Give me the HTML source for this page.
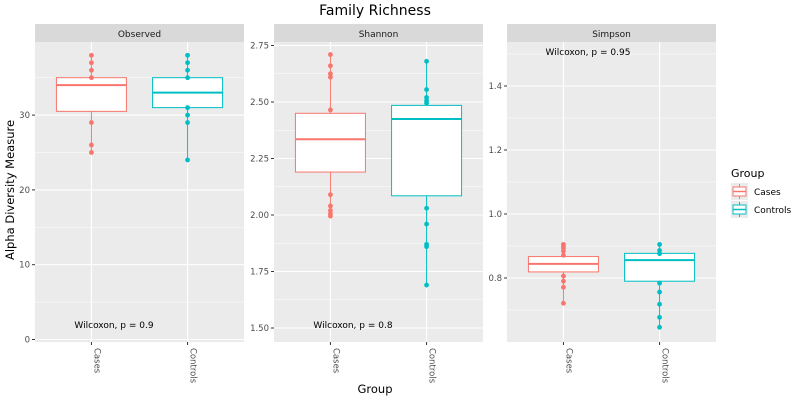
<!DOCTYPE html><html><head><style>body{margin:0;background:#fff}svg{display:block;font-family:"DejaVu Sans","Liberation Sans",sans-serif}</style></head><body>
<svg id="s" width="800" height="400" xmlns="http://www.w3.org/2000/svg"></svg>
<script>
const C='#F8766D',T='#00BFC4';let o='';
o+='<text x="375" y="15" font-size="14" text-anchor="middle" fill="#000">Family Richness</text>';
o+='<text x="14" y="190" font-size="11.5" text-anchor="middle" transform="rotate(-90 14 190)">Alpha Diversity Measure</text>';
o+='<text x="375" y="393" font-size="11.5" text-anchor="middle">Group</text>';
function panel(x0,x1,name,f,ticks,minors,lab,cases,ctrl,wx,wy,wtext){
 const top=42,bot=342;
 o+=`<rect x="${x0}" y="24" width="${x1-x0}" height="18" fill="#D9D9D9"/><text x="${(x0+x1)/2}" y="37" font-size="9" text-anchor="middle" fill="#1A1A1A">${name}</text>`;
 o+=`<rect x="${x0}" y="${top}" width="${x1-x0}" height="${bot-top}" fill="#EBEBEB"/>`;
 minors.forEach(v=>{const y=f(v);if(y>top&&y<bot)o+=`<line x1="${x0}" x2="${x1}" y1="${y}" y2="${y}" stroke="#fff" stroke-width="0.5"/>`});
 ticks.forEach((v,i)=>{const y=f(v);o+=`<line x1="${x0}" x2="${x1}" y1="${y}" y2="${y}" stroke="#fff" stroke-width="1.1"/><line x1="${x0-3}" x2="${x0}" y1="${y}" y2="${y}" stroke="#333"/><text x="${x0-5}" y="${y+3}" font-size="8.5" text-anchor="end" fill="#4D4D4D">${lab[i]}</text>`});
 const w=x1-x0,cx=[x0+w*0.27,x0+w*0.73];
 cx.forEach(x=>o+=`<line x1="${x}" x2="${x}" y1="${top}" y2="${bot}" stroke="#fff" stroke-width="1.1"/><line x1="${x}" x2="${x}" y1="${bot}" y2="${bot+3}" stroke="#333"/>`);
 [[cases,C,'Cases'],[ctrl,T,'Controls']].forEach(([d,col,nm],i)=>{const x=cx[i],hw=35;
  const [lo,q1,md,q3,hi,pts]=d;
  o+=`<line x1="${x}" x2="${x}" y1="${f(hi)}" y2="${f(q3)}" stroke="${col}"/><line x1="${x}" x2="${x}" y1="${f(q1)}" y2="${f(lo)}" stroke="${col}"/>`;
  o+=`<rect x="${x-hw}" y="${f(q3)}" width="${2*hw}" height="${f(q1)-f(q3)}" fill="#fff" stroke="${col}"/><line x1="${x-hw}" x2="${x+hw}" y1="${f(md)}" y2="${f(md)}" stroke="${col}" stroke-width="2"/>`;
  pts.forEach(p=>o+=`<circle cx="${x}" cy="${f(p)}" r="2.4" fill="${col}"/>`);
  o+=`<text x="${x+3}" y="${bot+6}" font-size="8.5" fill="#4D4D4D" transform="rotate(90 ${x+3} ${bot+6})">${nm}</text>`;
 });
 o+=`<text x="${wx}" y="${wy}" font-size="9" text-anchor="middle">${wtext}</text>`;
}
panel(35,244,'Observed',v=>339.5-v*7.48,[0,10,20,30],[5,15,25,35],['0','10','20','30'],
 [25,30.5,34,35,38,[38,37,36,35,29,26,25]],[24,31,33,35,38,[38,37,36,35,31,30,29,24]],114,328,'Wilcoxon, p = 0.9');
panel(274,483,'Shannon',v=>215-(v-2)*226,[1.5,1.75,2,2.25,2.5,2.75],[1.625,1.875,2.125,2.375,2.625],['1.50','1.75','2.00','2.25','2.50','2.75'],
 [1.995,2.19,2.335,2.45,2.71,[2.71,2.66,2.625,2.61,2.465,2.09,2.04,2.02,2.005,1.995]],[1.69,2.085,2.425,2.485,2.68,[2.68,2.555,2.52,2.505,2.495,2.03,1.96,1.87,1.86,1.69]],353,328,'Wilcoxon, p = 0.8');
panel(507,716,'Simpson',v=>278-(v-0.8)*320,[0.8,1.0,1.2,1.4],[0.7,0.9,1.1,1.3,1.5],['0.8','1.0','1.2','1.4'],
 [0.72,0.819,0.844,0.867,0.905,[0.905,0.899,0.893,0.884,0.871,0.806,0.79,0.771,0.721]],[0.65,0.79,0.856,0.877,0.905,[0.905,0.886,0.876,0.784,0.756,0.718,0.677,0.646]],588,55,'Wilcoxon, p = 0.95');
o+='<text x="731" y="177" font-size="11">Group</text>';
[[C,'Cases',183],[T,'Controls',201]].forEach(([c,n,y])=>{o+=`<rect x="731" y="${y}" width="17" height="17" fill="#EBEBEB"/><line x1="739.5" x2="739.5" y1="${y+1}" y2="${y+16}" stroke="${c}"/><rect x="733" y="${y+4}" width="13" height="9" fill="#fff" stroke="${c}"/><line x1="733" x2="746" y1="${y+8.5}" y2="${y+8.5}" stroke="${c}" stroke-width="1.5"/><text x="754" y="${y+12}" font-size="9">${n}</text>`});
document.getElementById('s').innerHTML=o;
</script></body></html>
